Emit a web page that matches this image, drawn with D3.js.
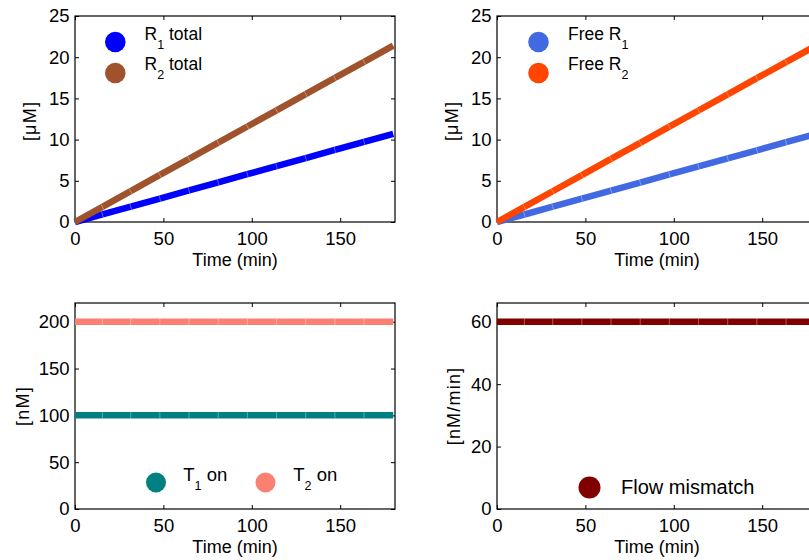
<!DOCTYPE html>
<html>
<head>
<meta charset="utf-8">
<script src="https://cdn.jsdelivr.net/npm/d3@7"></script>
<style>
  html, body { margin: 0; padding: 0; background: #fff; }
  svg { display: block; }
  text { font-family: "Liberation Sans", Arial, Helvetica, sans-serif; fill: #000; }
</style>
</head>
<body>
<svg id="chart" width="809" height="560"></svg>
<script>
// ---------------- data ----------------
const time = [0, 15.5, 31.5, 48, 64.5, 81, 97.5, 114, 130.5, 147, 163.5, 180];

const r1Total = [0, 0.92, 1.87, 2.85, 3.83, 4.81, 5.80, 6.78, 7.76, 8.74, 9.72, 10.7];
const r2Total = [0, 1.84, 3.74, 5.71, 7.67, 9.63, 11.59, 13.55, 15.52, 17.48, 19.44, 21.4];

const freeR1 = [0, 0.91, 1.86, 2.84, 3.81, 4.79, 5.77, 6.75, 7.73, 8.70, 9.68, 10.65];
const freeR2 = [0, 1.83, 3.73, 5.69, 7.65, 9.61, 11.57, 13.53, 15.49, 17.45, 19.41, 21.35];

const t1On = [100, 100, 100, 100, 100, 100, 100, 100, 100, 100, 100, 100];
const t2On = [200, 200, 200, 200, 200, 200, 200, 200, 200, 200, 200, 200];

const flowMismatch = [60, 60, 60, 60, 60, 60, 60, 60, 60, 60, 60, 60];

const xTicks = [0, 50, 100, 150];
const yTicksMicro = [0, 5, 10, 15, 20, 25];
const yTicksNano = [0, 50, 100, 150, 200];
const yTicksFlow = [0, 20, 40, 60];

const xLabel = "Time (min)";
const yLabels = ["[\u03BCM]", "[\u03BCM]", "[nM]", "[nM/min]"];

// legend entries: base text, subscript, rest
const legendTL = [["R", "1", " total"], ["R", "2", " total"]];
const legendTR = [["Free R", "1", ""], ["Free R", "2", ""]];
const legendBL = [["T", "1", " on"], ["T", "2", " on"]];
const legendBR = [["Flow mismatch", "", ""]];

// ---------------- layout / style ----------------
const svg = d3.select("#chart");
const W = 320, H = 206;
const FONT_TICK = 18.5, FONT_LABEL = 18, FONT_SUB = 12.5;

const panels = [
  { left: 75,  top: 16,  yMax: 25,  yTicks: yTicksMicro, yLabel: yLabels[0], yLabX: 36,  yLabY: 121,
    series: [{ v: r1Total, c: "#0000FF" }, { v: r2Total, c: "#A0522D" }], legFont: 17.5,
    legend: legendTL, legPos: [{ cx: 115.3, cy: 42, tx: 144.5, ty: 39.5 }, { cx: 115.3, cy: 73, tx: 144.5, ty: 69.5 }], r: 10.3 },
  { left: 497, top: 16,  yMax: 25,  yTicks: yTicksMicro, yLabel: yLabels[1], yLabX: 458, yLabY: 121,
    series: [{ v: freeR1, c: "#4169E1" }, { v: freeR2, c: "#FF4500" }], legFont: 17.5,
    legend: legendTR, legPos: [{ cx: 538.5, cy: 42, tx: 568, ty: 39.5 }, { cx: 538.5, cy: 73, tx: 568, ty: 69.5 }], r: 10.3 },
  { left: 75,  top: 303, yMax: 220, yTicks: yTicksNano, yLabel: yLabels[2], yLabX: 29,  yLabY: 406,
    series: [{ v: t1On, c: "#008080" }, { v: t2On, c: "#FA8072" }], legFont: 18.5,
    legend: legendBL, legPos: [{ cx: 156, cy: 482.5, tx: 183.3, ty: 481 }, { cx: 265.5, cy: 482.5, tx: 293.3, ty: 481 }], r: 10 },
  { left: 497, top: 303, yMax: 66,  yTicks: yTicksFlow, yLabel: yLabels[3], yLabX: 460, yLabY: 406,
    series: [{ v: flowMismatch, c: "#800000" }], legFont: 20,
    legend: legendBR, legPos: [{ cx: 589.5, cy: 487.5, tx: 621, ty: 494 }], r: 11 }
];

panels.forEach(p => {
  const x = d3.scaleLinear().domain([0, 181]).range([p.left, p.left + W]);
  const y = d3.scaleLinear().domain([0, p.yMax]).range([p.top + H, p.top]);
  const g = svg.append("g");

  const ax = (sel) => {
    sel.selectAll(".domain").remove();
    sel.selectAll(".tick line").attr("stroke", "#000").attr("stroke-width", 1);
    sel.selectAll(".tick text").attr("font-size", FONT_TICK)
      .attr("font-family", '"Liberation Sans", Arial, sans-serif').attr("fill", "#000");
  };
  g.append("g").attr("transform", `translate(0,${p.top + H})`)
    .call(d3.axisBottom(x).tickValues(xTicks).tickSize(-4).tickSizeOuter(0).tickPadding(10))
    .call(ax);
  g.append("g").attr("transform", `translate(0,${p.top})`)
    .call(d3.axisTop(x).tickValues(xTicks).tickSize(-4).tickSizeOuter(0).tickFormat(""))
    .call(ax);
  g.append("g").attr("transform", `translate(${p.left},0)`)
    .call(d3.axisLeft(y).tickValues(p.yTicks).tickSize(-4).tickSizeOuter(0).tickPadding(5.5))
    .call(ax);
  g.append("g").attr("transform", `translate(${p.left + W},0)`)
    .call(d3.axisRight(y).tickValues(p.yTicks).tickSize(-4).tickSizeOuter(0).tickFormat(""))
    .call(ax);
  g.append("rect").attr("x", p.left).attr("y", p.top).attr("width", W).attr("height", H)
    .attr("fill", "none").attr("stroke", "#000").attr("stroke-width", 1.2);

  g.append("text").attr("x", p.left + W / 2).attr("y", p.top + H + 43.5)
    .attr("text-anchor", "middle").attr("font-size", FONT_LABEL).text(xLabel);
  g.append("text").attr("transform", `translate(${p.yLabX},${p.yLabY}) rotate(-90)`)
    .attr("text-anchor", "middle").attr("font-size", FONT_LABEL).attr("letter-spacing", 1.2).text(p.yLabel);

  const line = d3.line().x((d, i) => x(time[i])).y(d => y(d));
  p.series.forEach(s => {
    g.append("path").datum(s.v).attr("d", line)
      .attr("fill", "none").attr("stroke", s.c).attr("stroke-width", 6.5)
      .attr("stroke-linejoin", "miter").attr("stroke-linecap", "butt");
    for (let i = 1; i < s.v.length - 1; i++) {
      const px = x(time[i]), py = y(s.v[i]);
      const dx = x(time[i + 1]) - x(time[i - 1]);
      const dy = y(s.v[i + 1]) - y(s.v[i - 1]);
      const len = Math.hypot(dx, dy);
      const nx = -dy / len * 3.2, ny = dx / len * 3.2;
      g.append("line").attr("x1", px - nx).attr("y1", py - ny).attr("x2", px + nx).attr("y2", py + ny)
        .attr("stroke", "#fff").attr("stroke-opacity", 0.35).attr("stroke-width", 1);
    }
  });

  p.legend.forEach((e, i) => {
    const pos = p.legPos[i];
    g.append("circle").attr("cx", pos.cx).attr("cy", pos.cy).attr("r", p.r).attr("fill", p.series[i].c);
    const t = g.append("text").attr("x", pos.tx).attr("y", pos.ty).attr("font-size", p.legFont);
    t.append("tspan").text(e[0]);
    if (e[1]) {
      t.append("tspan").attr("dy", 9).attr("font-size", FONT_SUB).text(e[1]);
      if (e[2]) t.append("tspan").attr("dy", -9).text(e[2]);
    } else if (e[2]) {
      t.append("tspan").text(e[2]);
    }
  });
});
</script>
</body>
</html>
